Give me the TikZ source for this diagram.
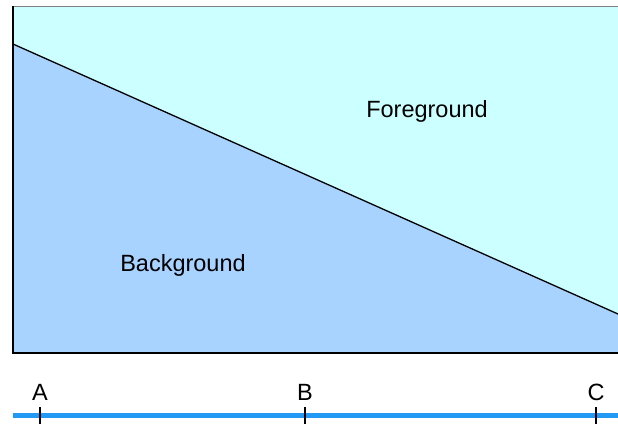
\documentclass[tikz,border=0pt]{standalone}
\usepackage{fontspec}
\setmainfont{Liberation Sans}
\usetikzlibrary{positioning}
\definecolor{fgcyan}{HTML}{CCFFFF}
\definecolor{bgblue}{HTML}{A8D2FF}
\definecolor{axisblue}{HTML}{2299F5}

\begin{document}
\begin{tikzpicture}[x=1pt, y=-1pt,
  lbl/.style={font=\fontsize{23.5}{28}\selectfont, inner sep=0pt},
  tickmark/.style={line width=2pt}]
\useasboundingbox (0,0) rectangle (618,424);
\coordinate (tl) at (13,6);
\coordinate (tr) at (618,6);
\coordinate (bl) at (13,353);
\coordinate (br) at (618,353);
\coordinate (el) at (13,44);
\coordinate (er) at (618,314);
\fill[fgcyan] (tl) rectangle (br);
\fill[bgblue] (el) -- (er) -- (br) -- (bl) -- cycle;
\draw[line width=1.3pt] (el) -- (er);
\draw[gray, line width=0.8pt] (tl) -- (tr);
\draw[line width=1.5pt] (tl) -- (bl) -- (br);
\node[lbl] (fg) at (427,111) {Foreground};
\node[lbl] (bg) at (183,265) {Background};
% position axis
\coordinate (ax0) at (13,415);
\coordinate (ax1) at (618,415);
\draw[axisblue, line width=5pt] (ax0) -- (ax1);
\foreach \n/\x in {A/40,B/305,C/596} {
  \coordinate (t\n) at (\x,407);
  \coordinate (b\n) at (\x,424);
  \draw[tickmark] (t\n) -- (b\n);
  \node[lbl, above=6pt of t\n] (l\n) {\n};
}
\end{tikzpicture}
\end{document}
